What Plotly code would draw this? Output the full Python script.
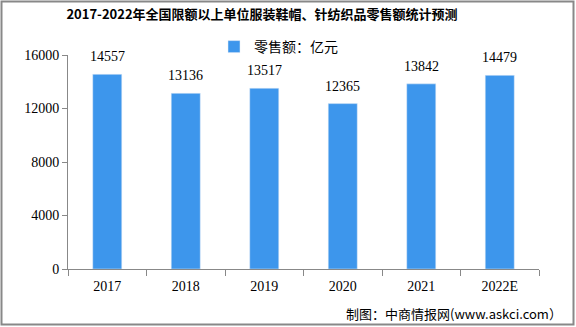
import plotly.graph_objects as go

years = ["2017", "2018", "2019", "2020", "2021", "2022E"]
sales = [14557, 13136, 13517, 12365, 13842, 14479]
y_ticks = [0, 4000, 8000, 12000, 16000]

W, H = 576, 327
L, R, T, B = 68, 37, 55, 58
pw, ph = W - L - R, H - T - B

def px(x):
    return (x - L) / pw

def py(y):
    return (H - B - y) / ph

fig = go.Figure()
fig.add_trace(go.Bar(
    x=years, y=sales, name="零售额：亿元",
    marker_color="#3d96ec", width=0.37,
))
for i, v in enumerate(sales):
    fig.add_annotation(x=i, y=v, text=str(v), showarrow=False,
                       yanchor="bottom", yshift=8,
                       font=dict(family="Liberation Serif, serif", size=14, color="#000"))

fig.update_layout(
    width=W, height=H,
    margin=dict(l=L, r=R, t=T, b=B),
    paper_bgcolor="white", plot_bgcolor="white",
    showlegend=True,
    legend=dict(x=px(214), y=py(31), xanchor="left", yanchor="top",
                font=dict(family="Noto Sans CJK SC", size=14, color="#000"),
                bgcolor="rgba(0,0,0,0)", itemwidth=30),
    title=dict(text="<b>2017-2022年全国限额以上单位服装鞋帽、针纺织品零售额统计预测</b>",
               x=262 / W, xref="container", xanchor="center", y=1 - 14 / H, yanchor="middle",
               font=dict(family="Noto Sans CJK SC", size=13, color="#000")),
)

fig.update_yaxes(range=[0, 16000], tickvals=y_ticks, ticktext=[str(v) for v in y_ticks],
                 showgrid=False,
                 showline=True, linecolor="#888", linewidth=1,
                 ticks="outside", ticklen=5, tickcolor="#888",
                 tickfont=dict(family="Liberation Serif, serif", size=14, color="#000"),
                 zeroline=False)
fig.update_xaxes(type="category", categoryorder="array", categoryarray=years,
                 range=[-0.5, len(years) - 0.5],
                 showline=True, linecolor="#888", linewidth=1,
                 ticks="outside", ticklen=6, tickcolor="#888", tickson="boundaries",
                 tickangle=0, ticklabelstandoff=4,
                 tickfont=dict(family="Liberation Serif, serif", size=14, color="#000"))

fig.add_annotation(text="制图：中商情报网(www.askci.com）", xref="paper", yref="paper",
                   x=px(344), y=py(313), xanchor="left", yanchor="middle", showarrow=False,
                   font=dict(family="Noto Sans CJK SC", size=13, color="#000"))

fig.add_shape(type="rect", xref="paper", yref="paper",
              x0=px(1.5), x1=px(W - 2.5), y0=py(H - 2.5), y1=py(1.5),
              line=dict(color="#888888", width=2), fillcolor="rgba(0,0,0,0)")

fig.write_html("out.html")
